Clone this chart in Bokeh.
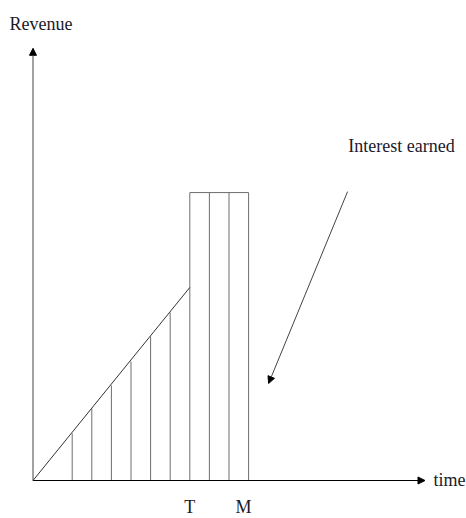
from bokeh.plotting import figure
from bokeh.models import Arrow, NormalHead, Range1d, Label
from bokeh.embed import file_html
from bokeh.resources import INLINE

# --- data ---
T = 8.0
M = 11.0
ramp_x = [0.0, 8.0]
ramp_y = [0.0, 9.85]
hatch_ramp_x = [2, 3, 4, 5, 6, 7]
hatch_ramp_top = [2.40, 3.67, 4.85, 6.07, 7.35, 8.57]
rect_left, rect_right, rect_top = 8.0, 11.0, 14.69
hatch_rect_x = [8, 9, 10, 11]
x_axis_end = 20.0
y_axis_end = 22.05
interest_from = (16.05, 14.74)
interest_to = (12.02, 4.95)
tick_labels = ["T", "M"]
tick_pos = [T, M]
tick_offsets = [0, -5]

W, H = 466, 518
unit = 19.6
x0 = -32.5 / unit
y0 = -(H - 480.0) / unit
p = figure(width=W, height=H, output_backend="svg", toolbar_location=None,
           x_range=Range1d(x0, x0 + W / unit), y_range=Range1d(y0, y0 + H / unit),
           min_border=0, outline_line_color=None)
p.axis.visible = False
p.grid.visible = False
p.background_fill_color = "white"

gray = "#6e6e6e"
# ramp hatch lines
p.segment(x0=hatch_ramp_x, y0=[0] * len(hatch_ramp_x), x1=hatch_ramp_x, y1=hatch_ramp_top,
          line_color=gray, line_width=1)
# rectangle hatch lines
p.segment(x0=hatch_rect_x, y0=[0] * len(hatch_rect_x), x1=hatch_rect_x,
          y1=[rect_top] * len(hatch_rect_x), line_color=gray, line_width=1)
p.segment(x0=[rect_left], y0=[rect_top], x1=[rect_right], y1=[rect_top],
          line_color=gray, line_width=1)
# ramp
p.line(ramp_x, ramp_y, line_color="#333333", line_width=1)

# axes with arrows
p.add_layout(Arrow(end=NormalHead(size=7, fill_color="black", line_color="black"),
                   x_start=0, y_start=0, x_end=x_axis_end, y_end=0,
                   line_color="black", line_width=1))
p.add_layout(Arrow(end=NormalHead(size=7, fill_color="black", line_color="black"),
                   x_start=0, y_start=0, x_end=0, y_end=y_axis_end,
                   line_color="#444444", line_width=1))
# interest arrow
p.add_layout(Arrow(end=NormalHead(size=7, fill_color="black", line_color="black"),
                   x_start=interest_from[0], y_start=interest_from[1],
                   x_end=interest_to[0], y_end=interest_to[1],
                   line_color="#444444", line_width=1))

font = "Liberation Serif"
col = "#1a1a2a"
fs = "18px"
p.add_layout(Label(x=0.41, y=23.27, text="Revenue", text_font=font, text_font_size=fs,
                   text_color=col, text_baseline="middle", text_align="center"))
p.add_layout(Label(x=20.43, y=0.05, text="time", text_font=font, text_font_size=fs,
                   text_color=col, text_baseline="middle", text_align="left"))
p.add_layout(Label(x=18.8, y=17.07, text="Interest earned", text_font=font,
                   text_font_size=fs, text_color=col, text_baseline="middle",
                   text_align="center"))
for lab, pos, off in zip(tick_labels, tick_pos, tick_offsets):
    p.add_layout(Label(x=pos, y=-1.33, x_offset=off, text=lab, text_font=font,
                       text_font_size=fs, text_color=col, text_baseline="middle",
                       text_align="center"))

open("out.html", "w").write(file_html(p, INLINE))
